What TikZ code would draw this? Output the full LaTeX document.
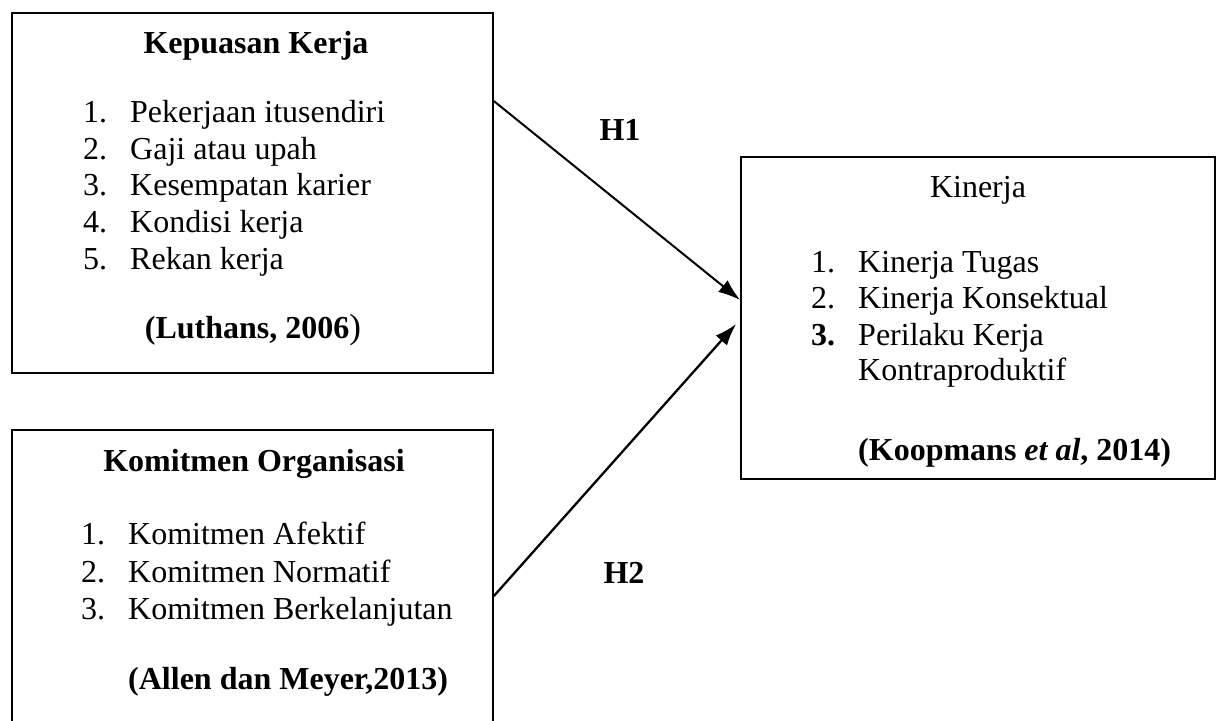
\documentclass[tikz,border=0pt]{standalone}
\usepackage{fontspec}
\setmainfont{Liberation Serif}
\usetikzlibrary{arrows.meta}
\begin{document}
\begin{tikzpicture}[x=1pt,y=-1pt,
  box/.style={draw,line width=1.8pt,rectangle,inner sep=0pt},
  txt/.style={inner sep=0pt,anchor=base west,font=\fontsize{32}{37}\selectfont},
  ttl/.style={inner sep=0pt,anchor=base,font=\fontsize{32}{37}\selectfont},
  arr/.style={line width=2.3pt,-{Latex[length=22pt,width=15pt]}}]
\useasboundingbox (0,0) rectangle (1220,720);
% boxes
\node[box,minimum width=481pt,minimum height=360pt] (b1) at (252.5,193) {};
\node[box,minimum width=481pt,minimum height=295pt] (b2) at (252.5,577.5) {};
\node[box,minimum width=474pt,minimum height=322pt] (b3) at (978,318) {};
% box 1 text
\node[ttl] (t1) at (256,53) {\textbf{Kepuasan Kerja}};
\node[txt] (n11) at (83,122) {1.};
\node[txt] (i11) at (130,122) {Pekerjaan itusendiri};
\node[txt] (n12) at (83,159) {2.};
\node[txt] (i12) at (130,159) {Gaji atau upah};
\node[txt] (n13) at (83,195) {3.};
\node[txt] (i13) at (130,195) {Kesempatan karier};
\node[txt] (n14) at (83,232) {4.};
\node[txt] (i14) at (130,232) {Kondisi kerja};
\node[txt] (n15) at (83,269) {5.};
\node[txt] (i15) at (130,269) {Rekan kerja};
\node[ttl] (s1) at (253,338) {\textbf{(Luthans, 2006}{\fontsize{35}{37}\selectfont)}};
% box 2 text
\node[ttl] (t2) at (254,471) {\textbf{Komitmen Organisasi}};
\node[txt] (n21) at (81,544) {1.};
\node[txt] (i21) at (128,544) {Komitmen Afektif};
\node[txt] (n22) at (81,582) {2.};
\node[txt] (i22) at (128,582) {Komitmen Normatif};
\node[txt] (n23) at (81,619) {3.};
\node[txt] (i23) at (128,619) {Komitmen Berkelanjutan};
\node[txt] (s2) at (128,689) {\textbf{(Allen dan Meyer,2013)}};
% box 3 text
\node[ttl] (t3) at (978,197) {Kinerja};
\node[txt] (n31) at (811,272) {1.};
\node[txt] (i31) at (858,272) {Kinerja Tugas};
\node[txt] (n32) at (811,308) {2.};
\node[txt] (i32) at (858,308) {Kinerja Konsektual};
\node[txt] (n33) at (811,345) {\textbf{3.}};
\node[txt] (i33) at (858,345) {Perilaku Kerja};
\node[txt] (i34) at (858,380) {Kontraproduktif};
\node[txt] (s3) at (858,460) {\textbf{(Koopmans \textit{et al}, 2014)}};
% hypotheses labels
\node[ttl] (h1) at (620,140) {\textbf{H1}};
\node[ttl] (h2) at (624,583) {\textbf{H2}};
% connectors
\draw[arr,line width=2pt] ([yshift=-89pt]b1.north east) -- ([yshift=18pt]b3.west);
\draw[arr] ([yshift=-18.5pt]b2.east) -- ([xshift=-4pt,yshift=-6pt]b3.west);
\end{tikzpicture}
\end{document}
